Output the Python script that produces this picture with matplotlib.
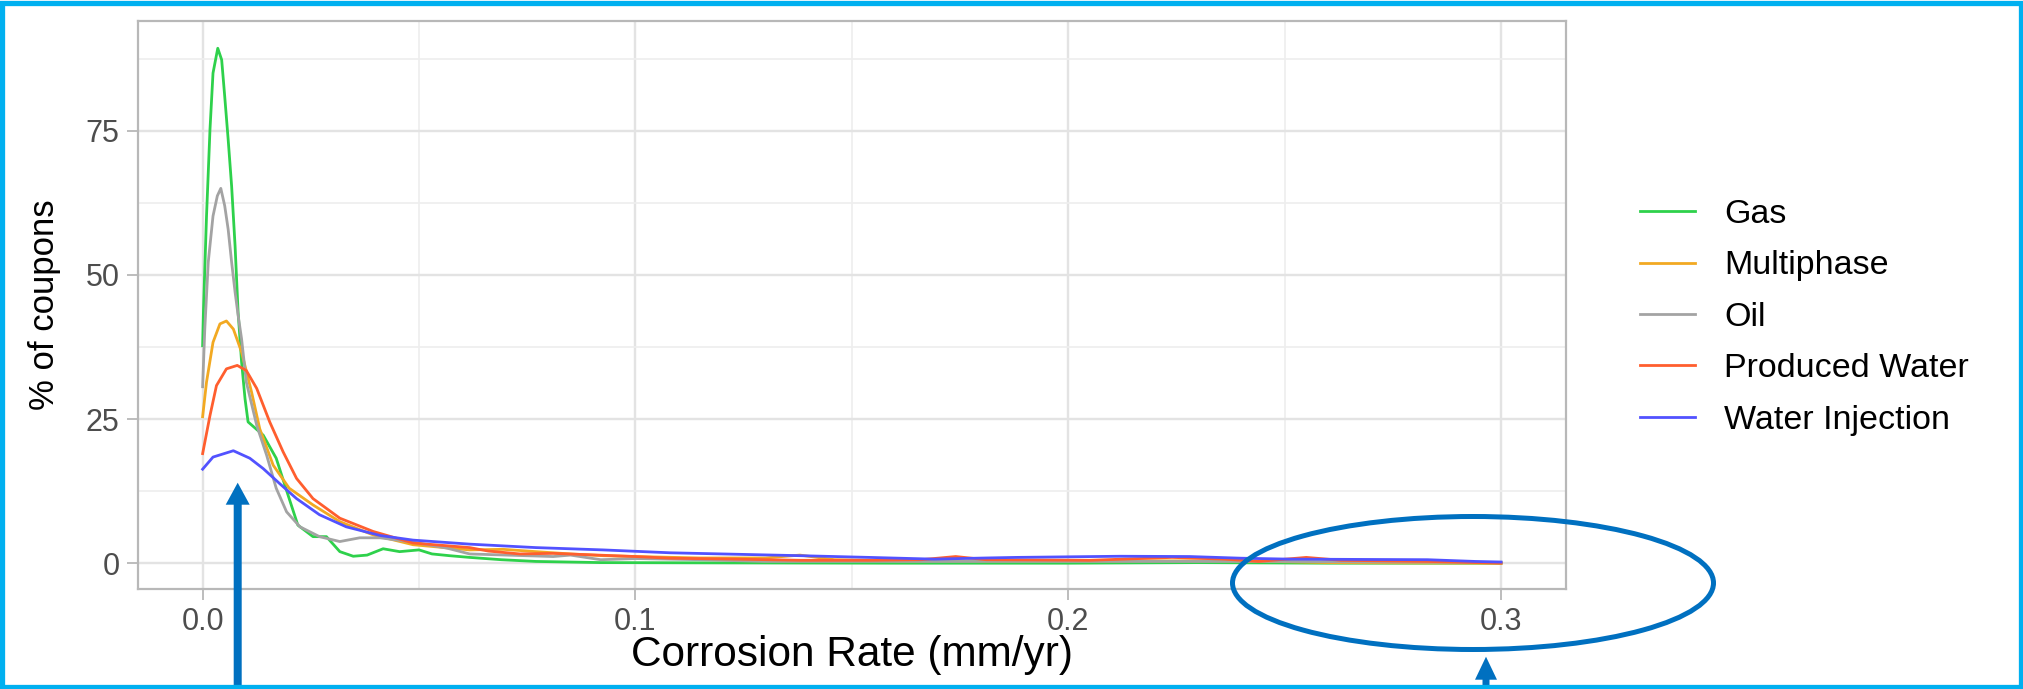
import matplotlib
matplotlib.use('Agg')
from matplotlib import pyplot as plt, patches

plt.rcParams['font.family'] = ['Liberation Sans', 'DejaVu Sans']

W, H = 2024, 689

series_names = ['Gas', 'Multiphase', 'Oil', 'Produced Water', 'Water Injection']
series_colors = ['#2ED14B', '#F2A922', '#A3A3A3', '#FF5E2E', '#5252FF']

# corrosion rate (mm/yr) / % of coupons
gas_x = [0.0, 0.0002, 0.0009, 0.0017, 0.0024, 0.0035, 0.0044, 0.0051, 0.0059, 0.0067, 0.0075, 0.0082,
         0.009, 0.0098, 0.0105, 0.014, 0.017, 0.020, 0.022, 0.0255, 0.0286, 0.0317, 0.0348, 0.038,
         0.0417, 0.0455, 0.050, 0.053, 0.057, 0.0617, 0.069, 0.077, 0.092, 0.12, 0.16, 0.2, 0.23, 0.26, 0.3]
gas_y = [37.7, 44.0, 60.2, 75.2, 85.0, 89.3, 87.3, 81.0, 73.5, 65.4, 55.0, 43.5,
         34.9, 28.5, 24.5, 22.2, 18.2, 11.2, 6.6, 4.6, 4.6, 2.0, 1.2, 1.4,
         2.5, 2.0, 2.3, 1.6, 1.3, 1.0, 0.6, 0.3, 0.1, 0.05, 0.0, 0.0, 0.1, 0.0, 0.0]

multi_x = [0.0, 0.0009, 0.0024, 0.004, 0.0055, 0.0071, 0.0082, 0.009, 0.0113, 0.0132, 0.0163, 0.020,
           0.0255, 0.0317, 0.0394, 0.0486, 0.0617, 0.0694, 0.077, 0.085, 0.0925, 0.1, 0.115, 0.13,
           0.138, 0.146, 0.161, 0.181, 0.2, 0.24, 0.26, 0.3]
multi_y = [25.4, 31.4, 38.3, 41.5, 42.0, 40.6, 38.3, 36.6, 29.7, 23.3, 17.0, 13.0,
           10.1, 7.2, 4.9, 3.2, 2.3, 2.4, 2.0, 1.6, 1.3, 1.15, 0.9, 0.9,
           1.4, 0.6, 0.4, 0.4, 0.4, 0.4, 0.1, 0.0]

oil_x = [0.0, 0.0005, 0.0013, 0.0024, 0.0034, 0.0042, 0.0051, 0.0059, 0.0067, 0.0075, 0.0082, 0.009,
         0.0101, 0.0125, 0.0148, 0.017, 0.0194, 0.0225, 0.027, 0.0317, 0.0363, 0.041, 0.049, 0.0565,
         0.0617, 0.081, 0.085, 0.092, 0.1, 0.115, 0.13, 0.16, 0.2, 0.25, 0.3]
oil_y = [30.6, 40.6, 52.2, 60.2, 63.7, 65.0, 62.0, 57.9, 52.2, 47.0, 43.0, 38.9,
         31.4, 23.9, 18.7, 13.0, 8.9, 6.3, 4.6, 3.75, 4.4, 4.4, 3.6, 2.6,
         1.6, 1.15, 1.4, 0.6, 0.8, 0.6, 0.3, 0.3, 0.3, 0.3, 0.1]

pw_x = [0.0, 0.0017, 0.0032, 0.0055, 0.008, 0.0101, 0.0125, 0.0155, 0.0186, 0.0217, 0.0255, 0.0317,
        0.0394, 0.0486, 0.0617, 0.066, 0.0733, 0.081, 0.1, 0.108, 0.123, 0.138, 0.154, 0.166,
        0.174, 0.181, 0.205, 0.224, 0.236, 0.244, 0.255, 0.263, 0.283, 0.3]
pw_y = [19.0, 25.6, 30.8, 33.7, 34.3, 33.4, 30.3, 24.5, 19.3, 14.7, 11.2, 7.8,
        5.5, 3.5, 2.7, 2.1, 1.6, 1.7, 1.15, 0.86, 0.7, 0.5, 0.5, 0.6,
        1.15, 0.6, 0.5, 1.0, 0.7, 0.3, 1.0, 0.5, 0.3, 0.0]

wi_x = [0.0, 0.0024, 0.0071, 0.0109, 0.014, 0.0178, 0.0217, 0.027, 0.0332, 0.041, 0.0486, 0.0617,
        0.077, 0.0925, 0.108, 0.123, 0.138, 0.154, 0.169, 0.181, 0.188, 0.212, 0.228, 0.24,
        0.251, 0.283, 0.294, 0.3]
wi_y = [16.3, 18.4, 19.5, 18.2, 16.4, 13.8, 11.2, 8.4, 6.3, 4.8, 4.0, 3.3,
        2.7, 2.3, 1.8, 1.55, 1.3, 1.0, 0.7, 0.9, 1.0, 1.2, 1.15, 0.86,
        0.7, 0.6, 0.3, 0.2]

series_x = [gas_x, multi_x, oil_x, pw_x, wi_x]
series_y = [gas_y, multi_y, oil_y, pw_y, wi_y]

x_ticks = [0.0, 0.1, 0.2, 0.3]
x_minor = [0.05, 0.15, 0.25]
y_ticks = [0, 25, 50, 75]
y_minor = [12.5, 37.5, 62.5, 87.5]

fig = plt.figure(figsize=(W / 100, H / 100), dpi=100)
fig.patch.set_facecolor('white')

# panel placement in pixels
left, right, top, bottom = 137.7, 1566, 20.6, 589
ax = fig.add_axes([left / W, 1 - bottom / H, (right - left) / W, (bottom - top) / H])

for name, col, xs, ys in zip(series_names, series_colors, series_x, series_y):
    ax.plot(xs, ys, color=col, lw=2.0, label=name, solid_joinstyle='round', zorder=3)

ax.set_xlim(-0.015, 0.315)
ax.set_ylim(-4.48, 94.1)
ax.set_xticks(x_ticks)
ax.set_xticklabels(['0.0', '0.1', '0.2', '0.3'])
ax.set_yticks(y_ticks)
ax.set_xticks(x_minor, minor=True)
ax.set_yticks(y_minor, minor=True)

ax.grid(which='major', color='#E3E3E3', lw=1.7, zorder=0)
ax.grid(which='minor', color='#EEEEEE', lw=1.2, zorder=0)
ax.set_axisbelow(True)

for sp in ax.spines.values():
    sp.set_color('#B8B8B8')
    sp.set_linewidth(1.6)

ax.tick_params(which='major', length=8, width=1.3, color='#B8B8B8',
               labelsize=22, labelcolor='#4D4D4D', pad=5)
ax.tick_params(which='minor', length=0)

ax.set_xlabel('Corrosion Rate (mm/yr)', fontsize=30.5, color='black', va='center')
ax.xaxis.set_label_coords(0.5, -0.116)
ax.set_ylabel('% of coupons', fontsize=25, color='black', va='center', ha='center')
ax.yaxis.set_label_coords(-0.065, 0.5)

ax.legend(loc='upper left', bbox_to_anchor=(1640 / W, 1 - 199 / H), bbox_transform=fig.transFigure,
          frameon=False, fontsize=24.5, handlelength=1.62, handletextpad=0.85,
          labelspacing=0.6, borderpad=0, borderaxespad=0)

# overlay annotations in pixel coordinates
ov = fig.add_axes([0, 0, 1, 1], zorder=10)
ov.set_xlim(0, W)
ov.set_ylim(H, 0)
ov.axis('off')
ov.patch.set_visible(False)

dark_blue = '#0070C0'
ov.add_patch(patches.FancyArrow(237.7, H, 0, 482.7 - H, width=8, head_width=24, head_length=22,
                                length_includes_head=True, color=dark_blue, lw=0))
ov.add_patch(patches.FancyArrow(1486, H, 0, 656.7 - H, width=7, head_width=22, head_length=23,
                                length_includes_head=True, color=dark_blue, lw=0))
ov.add_patch(patches.Ellipse((1473, 583), 481, 133, fill=False, ec=dark_blue, lw=3.6))
ov.add_patch(patches.Rectangle((2.5, 2.5), W - 5, H - 5, fill=False, ec='#00B0F0', lw=3.8))

fig.savefig('out.png', dpi=100)
